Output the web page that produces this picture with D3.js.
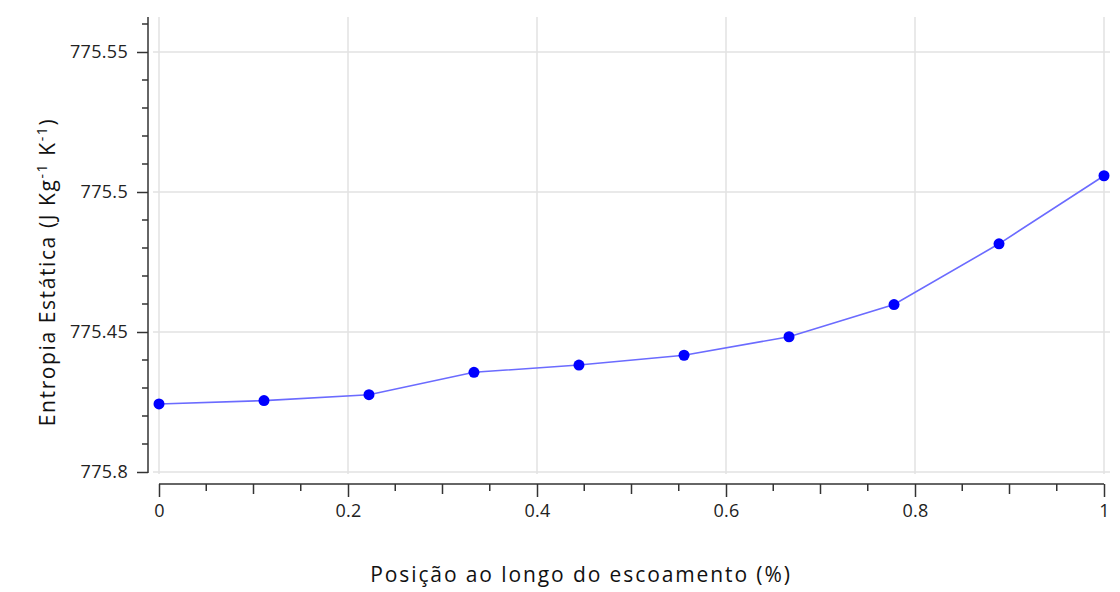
<!DOCTYPE html>
<html><head><meta charset="utf-8">
<script src="https://cdn.jsdelivr.net/npm/d3@7"></script>
<style>body{margin:0;background:#fff}svg{display:block}</style>
</head><body>
<svg id="c" width="1120" height="592"></svg>
<script>
const positions = [0, 0.1111, 0.2222, 0.3333, 0.4444, 0.5556, 0.6667, 0.7778, 0.8889, 1];
const entropy = [775.4243, 775.4255, 775.4276, 775.4356, 775.4382, 775.4417, 775.4483, 775.4598, 775.4815, 775.5058];
const yTickValues = [775.4, 775.45, 775.5, 775.55];
const yTickLabels = ["775.8", "775.45", "775.5", "775.55"];
const xTickValues = [0, 0.2, 0.4, 0.6, 0.8, 1];
const xTickLabels = ["0", "0.2", "0.4", "0.6", "0.8", "1"];

const svg = d3.select("#c");
const x = d3.scaleLinear().domain([0, 1]).range([159, 1104]);
const y = d3.scaleLinear().domain([775.4, 775.55]).range([472, 52]);
const yTop = 775.5625;
const font = "'Open Sans', 'Noto Sans', sans-serif";

// grid
const g = svg.append("g");
g.selectAll("line.vg").data(xTickValues).join("line")
  .attr("x1", d => x(d)).attr("x2", d => x(d)).attr("y1", y(yTop)).attr("y2", 474)
  .attr("stroke", "#e2e2e2").attr("stroke-width", 1.5);
g.selectAll("line.hg").data(yTickValues).join("line")
  .attr("x1", 153).attr("x2", 1110).attr("y1", d => y(d)).attr("y2", d => y(d))
  .attr("stroke", "#e2e2e2").attr("stroke-width", 1.5);

// y axis
const yAxis = d3.axisLeft(y).tickValues(yTickValues).tickSize(11)
  .tickFormat((d, i) => yTickLabels[i]);
const ya = svg.append("g").attr("transform", "translate(148,0)").call(yAxis);
ya.select(".domain").remove();
ya.append("line").attr("x1", 0).attr("x2", 0).attr("y1", y(yTop)).attr("y2", 473)
  .attr("stroke", "#333").attr("stroke-width", 1.5);
ya.selectAll(".tick line").attr("stroke", "#333").attr("stroke-width", 1.5);
ya.selectAll(".tick text").attr("x", -20).attr("font-size", 18).attr("letter-spacing", 0.3)
  .attr("font-family", font).attr("fill", "#222");
const yMinor = d3.range(775.4, 775.5601, 0.01).filter(v => !yTickValues.some(t => Math.abs(t - v) < 1e-6));
ya.selectAll("line.ymin").data(yMinor).join("line")
  .attr("x1", -6).attr("x2", 0).attr("y1", d => y(d)).attr("y2", d => y(d))
  .attr("stroke", "#333").attr("stroke-width", 1.5);

// x axis
const xAxis = d3.axisBottom(x).tickValues(xTickValues).tickSize(13)
  .tickFormat((d, i) => xTickLabels[i]);
const xa = svg.append("g").attr("transform", "translate(0,484)").call(xAxis);
xa.select(".domain").remove();
xa.append("line").attr("x1", x(0)).attr("x2", x(1)).attr("y1", 0).attr("y2", 0)
  .attr("stroke", "#333").attr("stroke-width", 1.5);
xa.selectAll(".tick line").attr("stroke", "#333").attr("stroke-width", 1.5);
xa.selectAll(".tick text").attr("y", 20).attr("font-size", 18).attr("letter-spacing", 0.3)
  .attr("font-family", font).attr("fill", "#222");
const xMinor = d3.range(0, 1.0001, 0.05).filter(v => !xTickValues.some(t => Math.abs(t - v) < 1e-6));
xa.selectAll("line.xmin").data(xMinor).join("line")
  .attr("x1", d => x(d)).attr("x2", d => x(d)).attr("y1", 0)
  .attr("y2", d => (Math.abs(Math.round(d * 10) - d * 10) < 1e-6) ? 10 : 7)
  .attr("stroke", "#333").attr("stroke-width", 1.5);

// line + points
const data = positions.map((p, i) => ({p, v: entropy[i]}));
svg.append("path").datum(data)
  .attr("d", d3.line().x(d => x(d.p)).y(d => y(d.v)))
  .attr("fill", "none").attr("stroke", "#6b6bff").attr("stroke-width", 1.6);
svg.selectAll("circle.pt").data(data).join("circle")
  .attr("cx", d => x(d.p)).attr("cy", d => y(d.v)).attr("r", 5.5).attr("fill", "#0000ff");

// titles
svg.append("text").attr("x", 581).attr("y", 582).attr("text-anchor", "middle")
  .attr("font-size", 21).attr("letter-spacing", 1.9).attr("font-family", font).attr("fill", "#111")
  .text("Posição ao longo do escoamento (%)");
const yt = svg.append("text").attr("transform", "translate(55,272) rotate(-90)")
  .attr("text-anchor", "middle").attr("font-size", 21).attr("letter-spacing", 1.6)
  .attr("font-family", font).attr("fill", "#111");
yt.append("tspan").text("Entropia Estática (J Kg");
yt.append("tspan").attr("dy", -8).attr("font-size", 14).text("-1");
yt.append("tspan").attr("dy", 8).text(" K");
yt.append("tspan").attr("dy", -8).attr("font-size", 14).text("-1");
yt.append("tspan").attr("dy", 8).text(")");
</script>
</body></html>
